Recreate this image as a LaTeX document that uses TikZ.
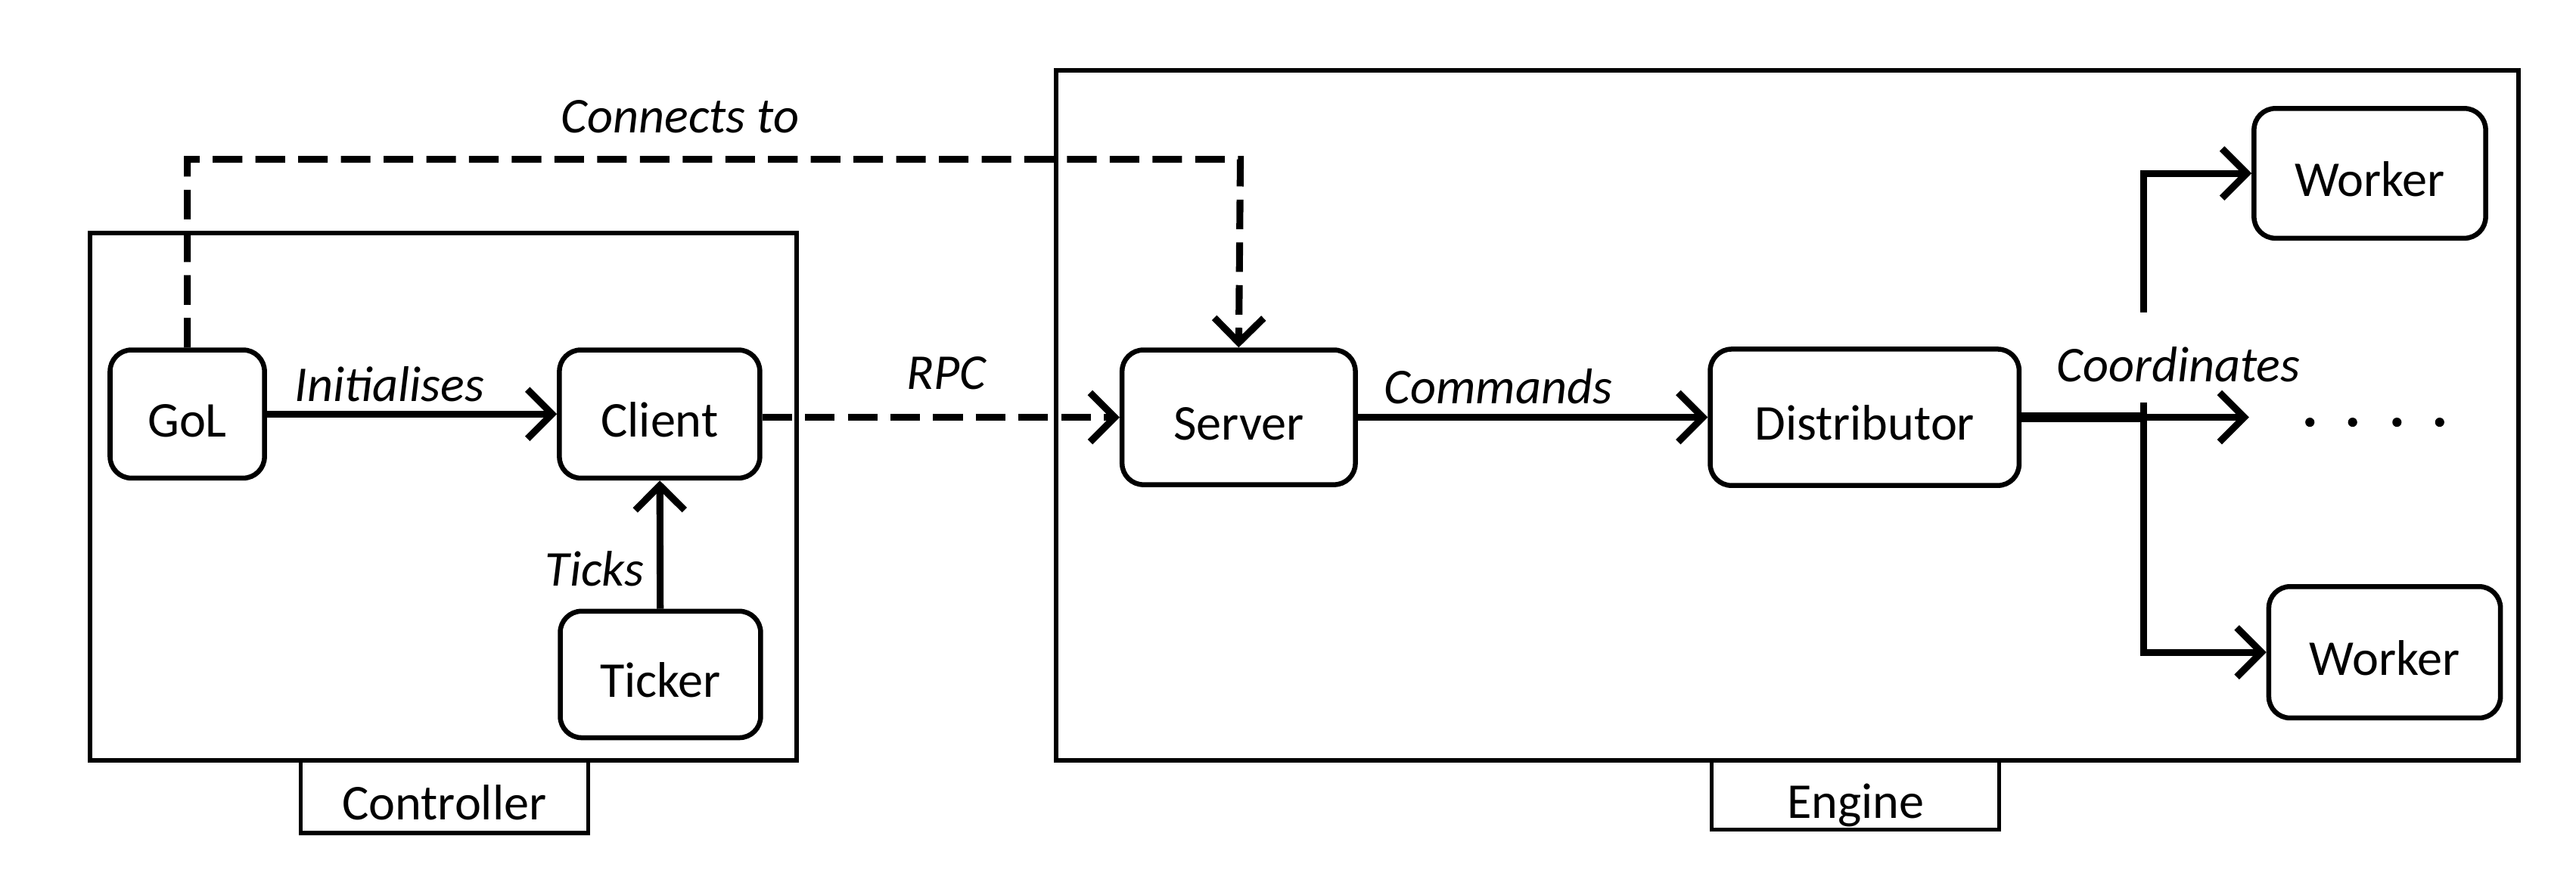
\documentclass[tikz,border=0pt]{standalone}
\usepackage{fontspec}
\setmainfont{Carlito}
\usetikzlibrary{arrows.meta}
\tikzset{
  every node/.style={font=\fontsize{30.5}{36}\selectfont},
  comp/.style={draw, line width=3pt, rounded corners=13pt, inner sep=0pt, text height=28pt, text depth=0pt},
  frame/.style={draw, line width=2.8pt, inner sep=0pt},
  tag/.style={draw, line width=2.4pt, inner sep=0pt, fill=white, text height=28pt, text depth=0pt},
  lbl/.style={font=\fontsize{30.5}{36}\selectfont\itshape, inner sep=0pt},
  arr/.style={line width=4.2pt, -{Straight Barb[length=15pt,width=30pt]}},
  dsh/.style={dash pattern=on 18pt off 8pt}
}
\begin{document}
\begin{tikzpicture}[x=1pt,y=-1pt]
\useasboundingbox (0,0) rectangle (1568,541);
% frames
\node[frame, minimum width=430pt, minimum height=321pt] (ctrl) at (270,302.5) {};
\node[frame, minimum width=890pt, minimum height=420pt] (eng) at (1088,253) {};
\node[tag, minimum width=175pt, minimum height=44pt] (ctrltag) at (270.5,485) {Controller};
\node[tag, minimum width=175pt, minimum height=42pt] (engtag) at (1129.5,484) {Engine};
% components
\node[comp, minimum width=94pt, minimum height=78pt] (gol) at (114,252) {GoL};
\node[comp, minimum width=122pt, minimum height=78pt] (client) at (401.5,252) {Client};
\node[comp, minimum width=122pt, minimum height=77pt] (ticker) at (402,410.5) {Ticker};
\node[comp, minimum width=142pt, minimum height=82pt] (server) at (754,254) {Server};
\node[comp, minimum width=188pt, minimum height=83pt] (dist) at (1135,254) {Distributor};
\node[comp, minimum width=141pt, minimum height=79pt] (w1) at (1442.5,105.5) {Worker};
\node[comp, minimum width=141pt, minimum height=80pt] (w2) at (1451.5,397) {Worker};
% coordinates
\coordinate (ct) at (755,97);
\coordinate (bp) at (1305,254);
\coordinate (b1) at (1305,190);
\coordinate (b2) at (1305,245);
\coordinate (mtip) at (1369,254);
% connectors
\draw[arr] (gol) -- (client);
\draw[arr] (ticker) -- (client);
\draw[arr, dsh] (client.east |- server.west) -- (server.west);
\draw[arr, dsh] (gol.north) |- (ct) -- (server.north);
\draw[arr] (server) -- (dist);
\draw[arr] (dist.east) -- (mtip);
\draw[line width=6pt] (dist.east) -- (bp);
\draw[arr] (b1) |- (w1.west);
\draw[arr] (b2) |- (w2.west);
% dots
\foreach \i/\xx in {1/1406,2/1432,3/1459,4/1485}
  \fill (\xx,257) circle (2.8pt);
% labels
\node[lbl] (l1) at (414,71) {Connects to};
\node[lbl] (l2) at (237,234) {Initialises};
\node[lbl] (l3) at (362,346) {Ticks};
\node[lbl] (l4) at (576,227) {RPC};
\node[lbl] (l5) at (912,235) {Commands};
\node[lbl] (l6) at (1326,222) {Coordinates};
\end{tikzpicture}
\end{document}
